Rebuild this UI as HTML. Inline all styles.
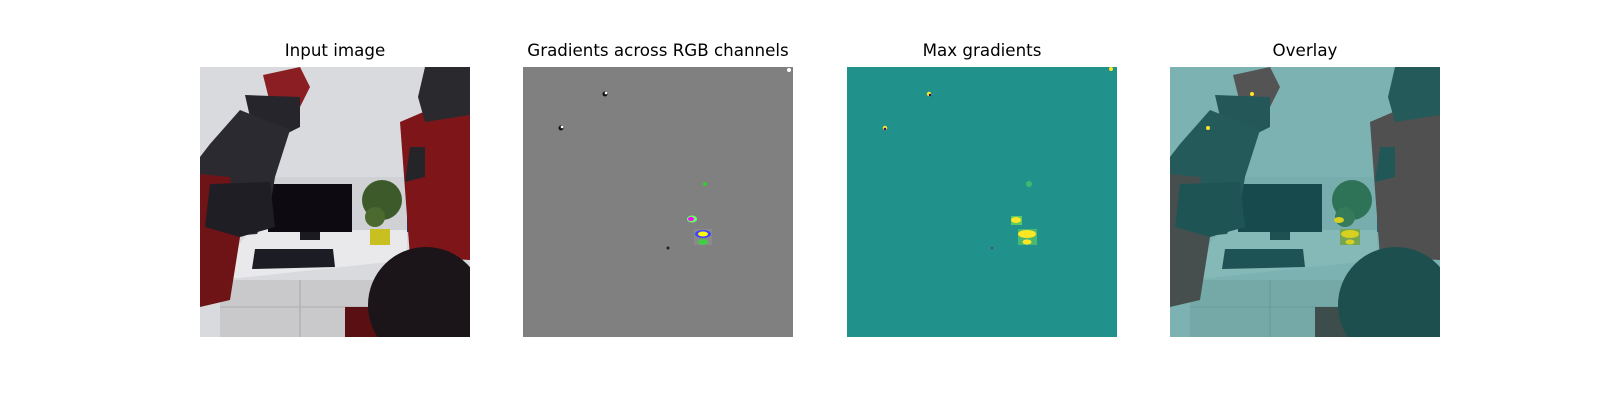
<!DOCTYPE html>
<html><head><meta charset="utf-8"><style>
html,body{margin:0;padding:0;background:#fff;width:1600px;height:400px;overflow:hidden}
.t{position:absolute;font-family:"DejaVu Sans","Liberation Sans",sans-serif;font-size:16.7px;color:#000;text-align:center;width:400px;top:40px}
svg.p{position:absolute;top:67px;width:270px;height:270px}
</style></head><body>
<svg width="0" height="0" style="position:absolute">
<defs>
<g id="scene">
<rect width="270" height="270" fill="#d9dadd"/>
<rect x="0" y="110" width="270" height="60" fill="#d0d1d4"/>
<polygon points="50,163 207,163 207,193 20,213 30,190" fill="#e9e9eb"/>
<rect x="20" y="213" width="160" height="57" fill="#c9c9cb"/>
<line x1="100" y1="213" x2="100" y2="270" stroke="#a8a8aa"/>
<line x1="20" y1="240" x2="180" y2="240" stroke="#b0b0b2"/>
<rect x="68" y="117" width="84" height="48" fill="#0d0a12"/>
<rect x="100" y="165" width="20" height="8" fill="#1a1a20"/>
<polygon points="55,182 133,182 135,200 52,202" fill="#1c1c24"/>
<circle cx="182" cy="133" r="20" fill="#3d5a2a"/>
<circle cx="175" cy="150" r="10" fill="#4a6a30"/>
<rect x="170" y="162" width="20" height="16" fill="#c8c020"/>
<rect x="207" y="115" width="10" height="50" fill="#2a3a6a"/>
<polygon points="63,8 100,0 110,20 100,40 70,36" fill="#8a1e22"/>
<polygon points="45,28 100,30 100,60 80,70 50,50" fill="#26252b"/>
<polygon points="10,77 40,43 90,63 75,110 70,140 57,167 23,170 0,160 0,90" fill="#2b2a30"/>
<polygon points="0,107 30,110 40,170 30,233 0,240" fill="#6e1416"/>
<polygon points="10,117 70,115 75,160 40,170 5,160" fill="#1f1e24"/>
<polygon points="200,55 228,43 270,43 270,193 210,190" fill="#7e1619"/>
<polygon points="225,0 270,0 270,48 225,55 218,30" fill="#2a2a2e"/>
<polygon points="210,80 225,80 225,110 205,115" fill="#252428"/>
<rect x="145" y="240" width="40" height="30" fill="#5a1012"/>
<circle cx="226" cy="238" r="58" fill="#1b1418"/>
</g>
</defs>
</svg>

<div class="t" style="left:135px">Input image</div>
<svg class="p" style="left:200px" viewBox="0 0 270 270"><use href="#scene"/></svg>

<div class="t" style="left:458px">Gradients across RGB channels</div>
<svg class="p" style="left:523px" viewBox="0 0 270 270">
<rect width="270" height="270" fill="#808080"/>
<circle cx="82" cy="27" r="2.5" fill="#111"/><circle cx="83" cy="26" r="1.3" fill="#fff"/>
<circle cx="38" cy="61" r="2.5" fill="#111"/><circle cx="39" cy="60" r="1.3" fill="#fff"/>
<circle cx="182" cy="117" r="2" fill="#3c3"/>
<ellipse cx="169" cy="152" rx="5" ry="3.5" fill="#6f6"/><ellipse cx="168" cy="152" rx="3" ry="2" fill="#f0f"/>
<rect x="171" y="162" width="18" height="16" fill="#8a8a8a"/>
<ellipse cx="180" cy="167" rx="8" ry="4" fill="#44f"/><ellipse cx="180" cy="167" rx="5" ry="2.5" fill="#ff0"/>
<ellipse cx="180" cy="175" rx="5" ry="3" fill="#4c4"/>
<circle cx="145" cy="181" r="1.5" fill="#222"/>
<circle cx="266" cy="3" r="2" fill="#fff"/>
</svg>

<div class="t" style="left:782px">Max gradients</div>
<svg class="p" style="left:847px" viewBox="0 0 270 270">
<rect width="270" height="270" fill="#21918c"/>
<circle cx="82" cy="27" r="2.2" fill="#fde725"/><circle cx="83" cy="28" r="1.2" fill="#440154"/>
<circle cx="38" cy="61" r="2.2" fill="#fde725"/><circle cx="38" cy="62" r="1.2" fill="#440154"/>
<circle cx="182" cy="117" r="3" fill="#3fb96f"/>
<rect x="164" y="149" width="11" height="9" fill="#5ec962"/><ellipse cx="169" cy="153" rx="5" ry="3" fill="#fde725"/>
<rect x="171" y="162" width="19" height="16" fill="#5ec962" opacity=".7"/>
<ellipse cx="180" cy="167" rx="9" ry="4" fill="#fde725"/><ellipse cx="180" cy="175" rx="4.5" ry="2.5" fill="#fde725"/>
<circle cx="145" cy="181" r="1.3" fill="#3b528b"/>
<circle cx="264" cy="2" r="2" fill="#fde725"/>
</svg>

<div class="t" style="left:1105px">Overlay</div>
<svg class="p" style="left:1170px" viewBox="0 0 270 270">
<use href="#scene"/>
<rect width="270" height="270" fill="#1f8a86" opacity="0.5"/>
<circle cx="82" cy="27" r="2" fill="#fde725"/>
<circle cx="38" cy="61" r="2" fill="#fde725"/>
<ellipse cx="169" cy="153" rx="5" ry="3" fill="#d8d020"/>
<ellipse cx="180" cy="167" rx="9" ry="4" fill="#d8d020"/><ellipse cx="180" cy="175" rx="4.5" ry="2.5" fill="#d8d020"/>
</svg>
</body></html>
